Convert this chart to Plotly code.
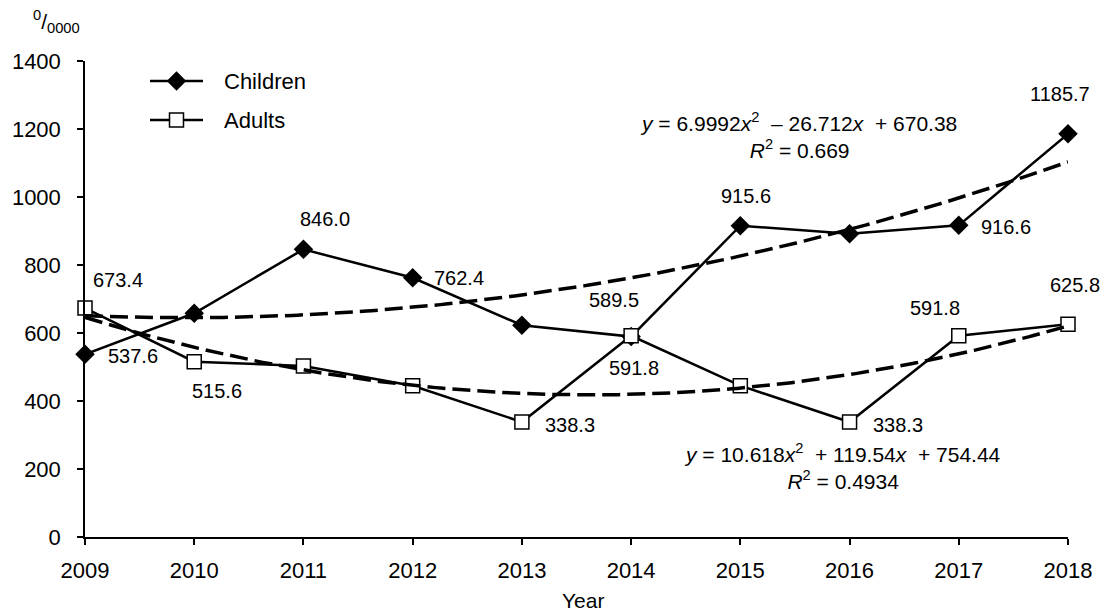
import numpy as np
import plotly.graph_objects as go

# Rates per 10 000, by year
years = list(range(2009, 2019))
children = [537.6, 658.0, 846.0, 762.4, 623.0, 589.5, 915.6, 892.0, 916.6, 1185.7]
adults = [673.4, 515.6, 503.0, 445.0, 338.3, 591.8, 445.0, 338.3, 591.8, 625.8]

# Second-order polynomial trend coefficients (x = 1 for 2009)
children_trend = [6.9992, -26.712, 670.38]
adults_trend = [10.618, -119.54, 754.44]

y_ticks = [0, 200, 400, 600, 800, 1000, 1200, 1400]

# Which points carry a value label, and the label's pixel offset (dx, dy; dy down)
children_labels = {0: (48, 2), 2: (22, -30), 3: (46, 0), 5: (-17, -37),
                   6: (6, -30), 8: (47, 2), 9: (-8, -40)}
adults_labels = {0: (33, -28), 1: (23, 29), 4: (48, 3), 5: (3, 32),
                 7: (48, 3), 8: (-24, -28), 9: (7, -39)}

FONT = "Liberation Sans, Arial, sans-serif"

# Plot-area size in pixels (used for the hand-placed legend overlay)
W, H = 1105, 616
M_L, M_R, M_T, M_B = 85, 37, 61, 79
PW, PH = W - M_L - M_R, H - M_T - M_B

children_style = dict(line=dict(color="black", width=2.5),
                      marker=dict(symbol="diamond", size=15, color="black"))
adults_style = dict(line=dict(color="black", width=2.5),
                    marker=dict(symbol="square", size=14, color="white",
                                line=dict(color="black", width=1.5)))

fig = go.Figure()

fig.add_trace(go.Scatter(x=years, y=children, name="Children",
                         mode="lines+markers", cliponaxis=False,
                         showlegend=False, **children_style))
fig.add_trace(go.Scatter(x=years, y=adults, name="Adults",
                         mode="lines+markers", cliponaxis=False,
                         showlegend=False, **adults_style))

# Trend curves evaluated from the polynomial coefficients
xs = np.linspace(1, len(years), 200)
for coef in (children_trend, adults_trend):
    fig.add_trace(go.Scatter(
        x=years[0] - 1 + xs, y=np.polyval(coef, xs), mode="lines",
        line=dict(color="black", width=3.5, dash="18px,7px"),
        showlegend=False, hoverinfo="skip", cliponaxis=False,
    ))

# Legend keys drawn on a pixel-unit overlay axis (x right, y down from plot top)
legend_rows = [("Children", children_style, 20), ("Adults", adults_style, 59)]
key_x0, key_x1, text_x = 65, 118, 137
annotations = []
for name, style, ky in legend_rows:
    fig.add_trace(go.Scatter(x=[key_x0, key_x1], y=[ky, ky], mode="lines",
                             line=style["line"], xaxis="x2", yaxis="y2",
                             showlegend=False, hoverinfo="skip"))
    fig.add_trace(go.Scatter(x=[(key_x0 + key_x1) / 2], y=[ky], mode="markers",
                             marker=style["marker"], xaxis="x2", yaxis="y2",
                             showlegend=False, hoverinfo="skip"))
    annotations.append(dict(x=text_x, y=ky, xref="x2", yref="y2", text=name,
                            showarrow=False, xanchor="left", yanchor="middle",
                            font=dict(family=FONT, size=22, color="black")))

for series, labels in ((children, children_labels), (adults, adults_labels)):
    for i, (dx, dy) in labels.items():
        annotations.append(dict(
            x=years[i], y=series[i], xref="x", yref="y",
            text=f"{series[i]:.1f}", showarrow=False,
            xshift=dx, yshift=-dy, xanchor="center", yanchor="middle",
            font=dict(family=FONT, size=20, color="black"),
        ))

annotations += [
    dict(x=0.7263, y=0.8445, xref="paper", yref="paper", showarrow=False,
         text="<i>y</i> = 6.9992<i>x</i><sup>2</sup>&nbsp; – 26.712<i>x</i> &nbsp;+ 670.38"
              "<br><i>R</i><sup>2</sup> = 0.669",
         align="center", xanchor="center", yanchor="middle",
         font=dict(family=FONT, size=21, color="black")),
    dict(x=0.7711, y=0.1471, xref="paper", yref="paper", showarrow=False,
         text="<i>y</i> = 10.618<i>x</i><sup>2</sup>&nbsp; + 119.54<i>x</i> &nbsp;+ 754.44"
              "<br><i>R</i><sup>2</sup> = 0.4934",
         align="center", xanchor="center", yanchor="middle",
         font=dict(family=FONT, size=21, color="black")),
    dict(x=-0.0285, y=1.082, xref="paper", yref="paper", showarrow=False,
         text="<sup>0</sup>/<sub>0000</sub>", xanchor="center", yanchor="middle",
         font=dict(family=FONT, size=21, color="black")),
    # x-axis title
    dict(x=0.507, y=-0.1335, xref="paper", yref="paper", showarrow=False,
         text="Year", xanchor="center", yanchor="middle",
         font=dict(family=FONT, size=21, color="black")),
]

fig.update_layout(
    width=W, height=H,
    margin=dict(l=M_L, r=M_R, t=M_T, b=M_B, autoexpand=False),
    paper_bgcolor="white", plot_bgcolor="white",
    font=dict(family=FONT, size=22, color="black"),
    annotations=annotations,
    showlegend=False,
    xaxis=dict(
        range=[years[0], years[-1]], tickmode="array", tickvals=years,
        ticktext=[str(y) for y in years], automargin=False,
        showline=True, linecolor="black", linewidth=1.5,
        ticks="outside", ticklen=6, tickwidth=1.5, tickcolor="black",
        showgrid=False, zeroline=False, ticklabelstandoff=7,
        tickfont=dict(size=22),
    ),
    yaxis=dict(
        range=[0, 1400], tickmode="array", tickvals=y_ticks, automargin=False,
        showline=True, linecolor="black", linewidth=1.5,
        ticks="outside", ticklen=6, tickwidth=1.5, tickcolor="black",
        showgrid=False, zeroline=False, ticklabelstandoff=12,
        tickfont=dict(size=22),
    ),
    xaxis2=dict(overlaying="x", range=[0, PW], visible=False, fixedrange=True),
    yaxis2=dict(overlaying="y", range=[PH, 0], visible=False, fixedrange=True),
)

fig.write_html("out.html")
